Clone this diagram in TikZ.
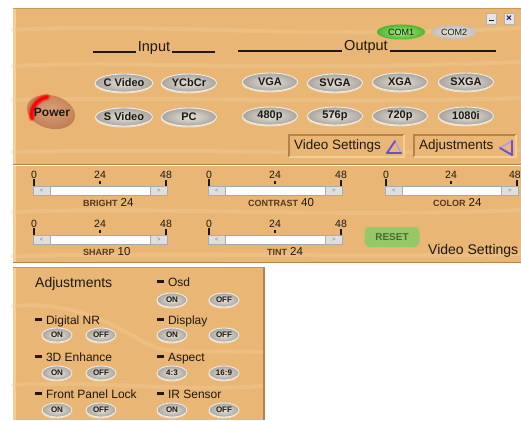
\documentclass[tikz,border=0pt]{standalone}
\usepackage{fontspec}
\setmainfont{Liberation Sans}
\usetikzlibrary{shapes.geometric,shadows}
\definecolor{wood}{HTML}{E9B676}
\definecolor{woodlight}{HTML}{F3CD96}
\definecolor{wooddark}{HTML}{B4824A}
\definecolor{woodedge}{HTML}{CB9659}
\definecolor{ink}{HTML}{1E1811}
\definecolor{labc}{HTML}{553A20}
\definecolor{btnin}{HTML}{E6E4DE}
\definecolor{btnout}{HTML}{A9A59D}
\definecolor{greenin}{HTML}{A6EC82}
\definecolor{greenout}{HTML}{4FB52F}
\definecolor{resetc}{HTML}{96C769}
\definecolor{resett}{HTML}{4B6A33}
\definecolor{purp}{HTML}{6A4FD0}
\definecolor{purpl}{HTML}{A89CEB}
\definecolor{powin}{HTML}{DCA07A}
\definecolor{powout}{HTML}{C17F55}
\newcommand\myfs[1]{\fontsize{#1}{#1}\selectfont}
\newcommand\mydash{\rule[0.28em]{0.6em}{0.18em}\hspace{0.3em}}
\tikzset{
  btn/.style={ellipse, minimum width=55pt, minimum height=18pt, inner sep=0pt,
    inner color=btnin, outer color=btnout, draw=white!80!btnout, line width=.9pt,
    font=\bfseries\myfs{11}, text=ink,
    drop shadow={shadow xshift=-0.5pt, shadow yshift=-1.5pt, fill=white, opacity=.5}},
  adjbtn/.style={btn, minimum width=30pt, minimum height=14pt, font=\bfseries\myfs{8}},
  hdr/.style={font=\myfs{14.5}, text=ink, inner sep=2pt},
  rulel/.style={draw=ink, line width=2pt},
  boxtxt/.style={font=\myfs{13.5}, text=ink, inner sep=0pt, anchor=west},
  adjtxt/.style={font=\myfs{12}, text=ink, inner sep=0pt, anchor=base west},
  num/.style={font=\myfs{10.5}, text=ink, inner sep=0pt},
  tick/.style={draw=ink, line width=2pt},
  track/.style={rectangle, fill=white, draw=gray!70, line width=.6pt, inner sep=0pt},
  sbtn/.style={rectangle, fill=gray!25, draw=gray!65, line width=.5pt, inner sep=0pt,
    minimum width=17pt, minimum height=9pt, font=\myfs{6}, text=gray},
  grain/.style={draw=woodlight, line width=4pt, opacity=.35, line cap=round},
}
\newcommand\myslider[6]{%
  \pgfmathsetmacro\sxb{#2+133}%
  \pgfmathsetmacro\sxm{#2+67}%
  \pgfmathsetmacro\syn{#3-11}%
  \pgfmathsetmacro\syl{#3+20}%
  \node[track, minimum width=134pt, minimum height=9pt, anchor=north west] (#1track) at (#2,#3) {};
  \node[sbtn, anchor=north west] (#1lb) at (#1track.north west) {<};
  \node[sbtn, anchor=north east] (#1rb) at (#1track.north east) {>};
  \node[num] (#1n0) at (#2+1,\syn) {0};
  \node[num] (#1n24) at (\sxm,\syn) {24};
  \node[num] (#1n48) at (\sxb,\syn) {48};
  \draw[tick] (#1n0.south) -- (#1n0.south |- #1track.north);
  \draw[tick] (\sxm,#3-5) -- (\sxm,#3-2);
  \draw[tick] (\sxb,#3-6) -- (\sxb,#3);
  \node[inner sep=0pt, anchor=base west] (#1lab) at (#6,\syl)
    {\textcolor{labc}{\bfseries\myfs{9}#4}\hspace{3pt}{\myfs{11.5}\color{ink}#5}};
}
\begin{document}
\begin{tikzpicture}[x=1pt,y=-1pt]
\useasboundingbox (0,0) rectangle (521,420);
\fill[white] (0,0) rectangle (521,420);
% ---------- panels
\fill[wood] (13,8) rectangle (521,165);
\fill[wood] (13,166) rectangle (521,263);
\fill[wood] (13,267) rectangle (265,420);
% grain
\draw[grain] (13,30) .. controls (150,22) and (300,40) .. (521,28);
\draw[grain] (13,66) .. controls (120,60) and (260,72) .. (521,62);
\draw[grain] (13,100) .. controls (160,96) and (330,104) .. (521,98);
\draw[grain] (13,152) .. controls (200,148) and (350,156) .. (521,150);
\draw[grain] (13,212) .. controls (150,206) and (330,218) .. (521,210);
\draw[grain] (13,256) .. controls (180,252) and (360,258) .. (521,254);
\draw[grain] (13,306) .. controls (80,300) and (120,330) .. (150,345) .. controls (170,355) and (200,350) .. (263,352);
\draw[grain] (13,385) .. controls (90,380) and (180,392) .. (263,386);
% bevels
\draw[woodlight, line width=3pt] (14.5,8) -- (14.5,165);
\draw[woodlight, line width=3pt] (14.5,166) -- (14.5,263);
\draw[woodlight, line width=3pt] (14.5,267) -- (14.5,420);
\draw[woodedge, line width=1pt] (13,8.5) -- (521,8.5);
\draw[wooddark, line width=1.6pt] (13,164.5) -- (521,164.5);
\draw[wooddark, line width=1.6pt] (13,262.5) -- (521,262.5);
\draw[woodedge, line width=1pt] (13,267.5) -- (265,267.5);
\draw[wooddark, line width=1.6pt] (264,267) -- (264,420);
% ---------- window buttons
\node[rectangle, fill=gray!20, draw=gray!60, minimum width=10pt, minimum height=11pt, inner sep=0pt] (minb) at (491,18.5) {};
\fill[ink] ([xshift=-2.5pt,yshift=-1.5pt]minb.center) rectangle ([xshift=2.5pt,yshift=-3pt]minb.center);
\node[rectangle, fill=gray!20, draw=gray!60, minimum width=10pt, minimum height=11pt, inner sep=0pt, font=\bfseries\myfs{10}, text=ink!70!blue] (closeb) at (509,18.5) {×};
% ---------- COM
\node[ellipse, minimum width=48pt, minimum height=15pt, inner sep=0pt, inner color=greenin, outer color=greenout, font=\myfs{9}, text=ink] (com1) at (401,32) {COM1};
\node[ellipse, minimum width=45pt, minimum height=14pt, inner sep=0pt, inner color=btnin, outer color=btnout!70!white, font=\myfs{9}, text=ink] (com2) at (454,32) {COM2};
% ---------- headers
\node[hdr] (input) at (154,48) {Input};
\coordinate (inL) at (93,52);
\coordinate (inR) at (215,52);
\draw[rulel] (inL) -- (inL -| input.west);
\draw[rulel] (inR -| input.east) -- (inR);
\node[hdr] (output) at (366,47) {Output};
\coordinate (outL) at (238,51);
\coordinate (outR) at (496,51);
\draw[rulel] (outL) -- (outL -| output.west);
\draw[rulel] (outR -| output.east) -- (outR);
% ---------- input buttons
\node[btn] (cvideo) at (124,83) {C Video};
\node[btn] (ycbcr) at (189,83) {YCbCr};
\node[btn] (svideo) at (124,117) {S Video};
\node[btn] (pc) at (189,117) {PC};
% ---------- output buttons
\node[btn] (vga) at (270,82) {VGA};
\node[btn] (svga) at (335,83) {SVGA};
\node[btn] (xga) at (400,82) {XGA};
\node[btn] (sxga) at (466,82) {SXGA};
\node[btn] (p480) at (270,116) {480p};
\node[btn] (p576) at (335,116) {576p};
\node[btn] (p720) at (400,116) {720p};
\node[btn] (i1080) at (466,116) {1080i};
% ---------- power
\node[ellipse, rotate=-15, minimum width=49pt, minimum height=33pt, inner sep=0pt,
  inner color=powin, outer color=powout] (power) at (51,112) {};
\foreach \w/\o in {7/.25,5/.45,3/.9}{
  \draw[red, line width=\w pt, opacity=\o, line cap=round]
    ([shift={(-19,6)}]power.center) .. controls ([shift={(-21,-4)}]power.center) and ([shift={(-14,-13)}]power.center) .. ([shift={(-4,-15)}]power.center);
}
\node[font=\bfseries\myfs{12}, text=ink, inner sep=0pt] (powert) at (52,112) {Power};
% ---------- settings boxes
\node[rectangle, minimum width=115pt, minimum height=22pt, inner sep=0pt, fill=wood] (vsbox) at (346.5,146) {};
\draw[wooddark, line width=1.6pt] (vsbox.south west) -- (vsbox.north west) -- (vsbox.north east);
\draw[woodlight, line width=1.6pt] (vsbox.north east) -- (vsbox.south east) -- (vsbox.south west);
\node[boxtxt] (vstext) at (294,146) {Video Settings};
\coordinate (vtA) at (387,153);
\coordinate (vtB) at (395,141);
\coordinate (vtC) at (401,153);
\draw[purpl, line width=1.5pt, line join=round] (vtA) -- (vtB) -- (vtC);
\draw[purp, line width=2.2pt, line cap=round] (vtA) -- (vtC);
\draw[purp, line width=1.8pt, line cap=round] (vtA) -- (vtB);
\node[rectangle, minimum width=102pt, minimum height=22pt, inner sep=0pt, fill=wood] (adbox) at (465,146) {};
\draw[wooddark, line width=1.6pt] (adbox.south west) -- (adbox.north west) -- (adbox.north east);
\draw[woodlight, line width=1.6pt] (adbox.north east) -- (adbox.south east) -- (adbox.south west);
\node[boxtxt] (adtext) at (419,146) {Adjustments};
\coordinate (atA) at (500,148);
\coordinate (atB) at (512,141);
\coordinate (atC) at (512,155);
\draw[purpl, line width=1.5pt, line join=round] (atB) -- (atA) -- (atC);
\draw[purp, line width=2.2pt, line cap=round] (atB) -- (atC);
\draw[purp, line width=1.8pt, line cap=round] (atA) -- (atC);
% ---------- sliders
\myslider{br}{33}{186}{BRIGHT}{24}{83}
\myslider{co}{208}{186}{CONTRAST}{40}{248}
\myslider{sh}{33}{235}{SHARP}{10}{83}
\myslider{ti}{208}{235}{TINT}{24}{267}
% COLOR slider (its right end meets the picture's edge)
\node[track, minimum width=133pt, minimum height=9pt, anchor=north west] (cltrack) at (385,186) {};
\node[sbtn, anchor=north west] (cllb) at (cltrack.north west) {<};
\node[sbtn, anchor=north east] (clrb) at (cltrack.north east) {>};
\node[num] (cln0) at (386,175) {0};
\node[num] (cln24) at (451,175) {24};
\node[num, anchor=east] (cln48) at (521,175) {48};
\draw[tick] (cln0.south) -- (cln0.south |- cltrack.north);
\draw[tick] (451,181) -- (451,184);
\draw[tick] (517,180) -- (517,186);
\node[inner sep=0pt, anchor=base west] (cllab) at (433,206)
  {\textcolor{labc}{\bfseries\myfs{9}COLOR}\hspace{3pt}{\myfs{11.5}\color{ink}24}};
\node[rectangle, rounded corners=5pt, fill=resetc, minimum width=55pt, minimum height=20pt, inner sep=0pt, font=\bfseries\myfs{10}, text=resett] (reset) at (392,237) {RESET};
\node[font=\myfs{14}, text=ink, inner sep=0pt, anchor=base west] (vslabel) at (428,254) {Video Settings};
% ---------- adjustments panel
\node[font=\myfs{14}, text=ink, inner sep=0pt, anchor=base west] (adjtitle) at (35,287) {Adjustments};
\node[adjtxt] (osd) at (157,286) {\mydash Osd};
\node[adjbtn] (osdon) at (172,300) {ON};
\node[adjbtn] (osdoff) at (224,300) {OFF};
\node[adjtxt] (dnr) at (35,324) {\mydash Digital NR};
\node[adjtxt] (disp) at (157,324) {\mydash Display};
\node[adjbtn] (dnron) at (57,335) {ON};
\node[adjbtn] (dnroff) at (101,335) {OFF};
\node[adjbtn] (dispon) at (172,335) {ON};
\node[adjbtn] (dispoff) at (224,335) {OFF};
\node[adjtxt] (tde) at (35,361) {\mydash 3D Enhance};
\node[adjtxt] (asp) at (157,361) {\mydash Aspect};
\node[adjbtn] (tdeon) at (57,373) {ON};
\node[adjbtn] (tdeoff) at (101,373) {OFF};
\node[adjbtn] (a43) at (172,373) {4:3};
\node[adjbtn] (a169) at (224,373) {16:9};
\node[adjtxt] (fpl) at (35,398) {\mydash Front Panel Lock};
\node[adjtxt] (irs) at (157,398) {\mydash IR Sensor};
\node[adjbtn] (fplon) at (57,410) {ON};
\node[adjbtn] (fploff) at (101,410) {OFF};
\node[adjbtn] (irson) at (172,410) {ON};
\node[adjbtn] (irsoff) at (224,410) {OFF};
\end{tikzpicture}
\end{document}
